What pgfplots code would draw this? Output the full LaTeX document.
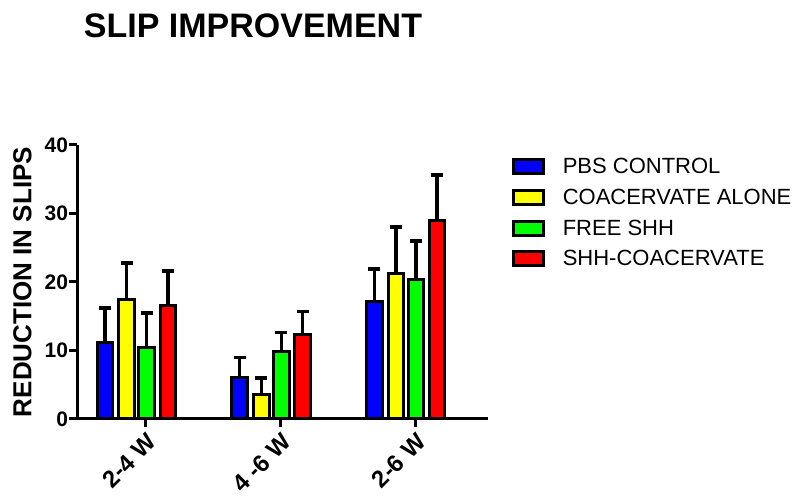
\documentclass[border=0pt]{standalone}
\usepackage{fontspec}
\setmainfont{Liberation Sans}
\usepackage{pgfplots}
\pgfplotsset{compat=1.18}
\begin{document}
\begin{tikzpicture}[x=1pt,y=1pt]
\path[use as bounding box] (0,0) rectangle (796,502);
\node[anchor=base, font=\bfseries\fontsize{34}{34}\selectfont] at (253,464) {SLIP IMPROVEMENT};
\begin{axis}[
  at={(77pt,83pt)}, anchor=south west,
  scale only axis, width=411pt, height=274pt,
  xmin=0.489, xmax=3.54, ymin=0, ymax=40,
  axis lines=left,
  axis line style={-, line width=3pt},
  ybar, bar width=0.115,
  xtick={1,2,3}, xticklabels={2-4 W, 4 -6 W, 2-6 W},
  ytick={0,10,20,30,40},
  tick align=outside, major tick length=8pt,
  tick style={line width=3pt, black},
  /pgf/number format/assume math mode=true,
  y tick label style={font=\bfseries\fontsize{21}{21}\selectfont, xshift=2.5pt},
  x tick label style={rotate=45, anchor=north east, font=\bfseries\fontsize{24}{24}\selectfont},
  ylabel={REDUCTION IN SLIPS},
  ylabel style={at={(rel axis cs:-0.133,0.5)}, anchor=center, font=\bfseries\fontsize{26}{26}\selectfont},
  legend style={at={(rel axis cs:1.050,0.968)}, anchor=north west, draw=none, fill=none,
     font=\fontsize{22}{22}\selectfont, row sep=10pt},
  legend cell align=left,
  legend image code/.code={\draw[#1, line width=3pt] (0pt,-7pt) rectangle (30pt,7pt); \path (46pt,0pt);},
  error bars/y dir=plus, error bars/y explicit,
  error bars/error mark=-,
  error bars/error bar style={line width=3.5pt, black},
  error bars/error mark options={line width=3.5pt, mark size=6pt, black, rotate=90},
]
\addplot[draw=black, line width=3pt, fill={rgb,255:red,0;green,0;blue,255}, bar shift=-0.304]
  coordinates {(1,11.2) +- (0,5.0) (2,6.0) +- (0,3.0) (3,17.1) +- (0,4.8)};
\addplot[draw=black, line width=3pt, fill={rgb,255:red,255;green,255;blue,0}, bar shift=-0.143]
  coordinates {(1,17.5) +- (0,5.3) (2,3.6) +- (0,2.4) (3,21.2) +- (0,6.8)};
\addplot[draw=black, line width=3pt, fill={rgb,255:red,0;green,255;blue,0}, bar shift=0.006]
  coordinates {(1,10.4) +- (0,5.1) (2,9.9) +- (0,2.7) (3,20.4) +- (0,5.6)};
\addplot[draw=black, line width=3pt, fill={rgb,255:red,255;green,0;blue,0}, bar shift=0.163]
  coordinates {(1,16.6) +- (0,5.0) (2,12.4) +- (0,3.3) (3,29.0) +- (0,6.6)};
\legend{PBS CONTROL, COACERVATE ALONE, FREE SHH, SHH-COACERVATE}
\end{axis}
\end{tikzpicture}
\end{document}
